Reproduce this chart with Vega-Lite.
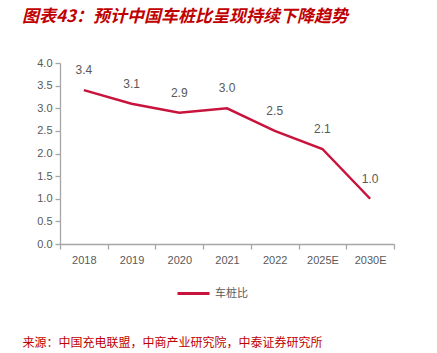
{
  "$schema": "https://vega.github.io/schema/vega-lite/v6.json",
  "autosize": "none",
  "width": 334,
  "height": 181,
  "padding": {"left": 60, "top": 63, "right": 43, "bottom": 109},
  "background": "white",
  "config": {
    "view": {"stroke": null},
    "font": "Liberation Sans",
    "axis": {"grid": false, "domainColor": "#A6A6A6", "tickColor": "#A6A6A6", "labelColor": "#595959", "labelFontSize": 11, "labelFont": "Liberation Sans", "domainWidth": 1.3, "tickWidth": 1.3}
  },
  "title": {
    "text": "图表43：预计中国车桩比呈现持续下降趋势",
    "anchor": "start",
    "frame": "group",
    "dx": -38,
    "offset": 31,
    "font": "Noto Sans CJK SC",
    "fontSize": 17,
    "fontWeight": "bold",
    "fontStyle": "italic",
    "color": "#C00000"
  },
  "data": {
    "values": [
      {"year": "2018", "ratio": 3.4, "series": "车桩比"},
      {"year": "2019", "ratio": 3.1, "series": "车桩比"},
      {"year": "2020", "ratio": 2.9, "series": "车桩比"},
      {"year": "2021", "ratio": 3.0, "series": "车桩比"},
      {"year": "2022", "ratio": 2.5, "series": "车桩比"},
      {"year": "2025E", "ratio": 2.1, "series": "车桩比"},
      {"year": "2030E", "ratio": 1.0, "series": "车桩比"}
    ]
  },
  "encoding": {
    "x": {
      "field": "year",
      "type": "ordinal",
      "sort": null,
      "scale": {"type": "band", "paddingInner": 0, "paddingOuter": 0},
      "axis": {
        "labelAngle": 0,
        "tickBand": "extent",
        "tickSize": 5,
        "labelPadding": 5,
        "title": "来源：中国充电联盟，中商产业研究院，中泰证券研究所",
        "titleX": -38,
        "titleY": 98,
        "titleAlign": "left",
        "titleBaseline": "middle",
        "titleAnchor": "start",
        "titleFont": "Noto Sans CJK SC",
        "titleFontSize": 12,
        "titleFontWeight": "normal",
        "titleColor": "#C00000"
      }
    },
    "y": {
      "field": "ratio",
      "type": "quantitative",
      "scale": {"domain": [0, 4]},
      "axis": {"title": null, "values": [0, 0.5, 1, 1.5, 2, 2.5, 3, 3.5, 4], "format": ".1f", "tickSize": 5, "labelPadding": 3}
    }
  },
  "layer": [
    {
      "mark": {"type": "line", "strokeWidth": 2.5},
      "encoding": {
        "color": {
          "field": "series",
          "type": "nominal",
          "scale": {"range": ["#C8143C"]},
          "legend": {
            "title": null,
            "orient": "none",
            "legendX": 116,
            "legendY": 213,
            "symbolType": "stroke",
            "symbolSize": 1024,
            "symbolStrokeWidth": 3,
            "labelFont": "Noto Sans CJK SC",
            "labelFontSize": 11,
            "labelColor": "#595959"
          }
        }
      }
    },
    {
      "mark": {"type": "text", "dy": -20, "fontSize": 12, "color": "#595959", "font": "Liberation Sans"},
      "encoding": {
        "text": {"field": "ratio", "type": "quantitative", "format": ".1f"}
      }
    }
  ]
}
